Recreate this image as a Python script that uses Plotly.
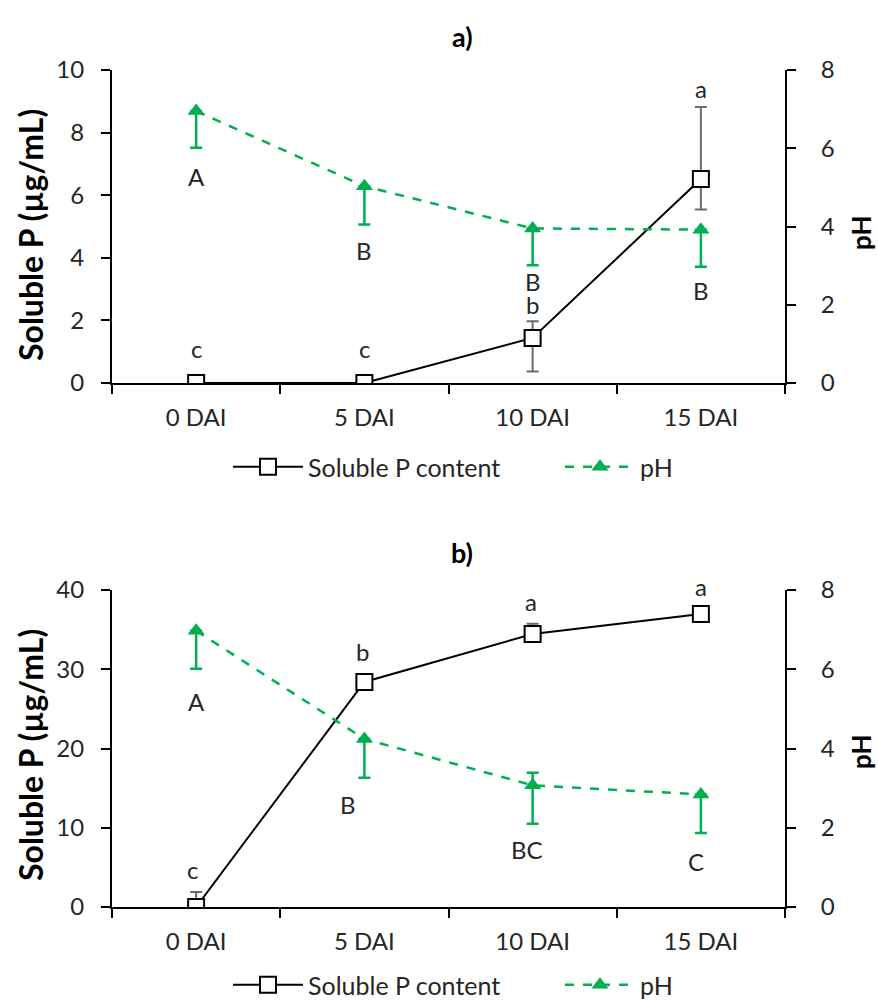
import plotly.graph_objects as go
from plotly.subplots import make_subplots

categories = ["0 DAI", "5 DAI", "10 DAI", "15 DAI"]

# Panel a
p_a = [0.0, 0.0, 1.44, 6.52]
p_a_err_plus = [0.0, 0.0, 0.53, 2.30]
p_a_err_minus = [0.0, 0.0, 1.07, 0.98]
ph_a = [6.95, 5.03, 3.95, 3.92]
ph_a_err_plus = [0.0, 0.0, 0.0, 0.0]
ph_a_err_minus = [0.94, 0.98, 0.94, 0.95]
p_a_letters = ["c", "c", "b", "a"]
p_a_letter_y = [1.09, 1.09, 2.50, 9.42]
ph_a_letters = ["A", "B", "B", "B"]
ph_a_letter_y = [6.61, 4.22, 3.25, 2.97]

# Panel b
p_b = [0.0, 28.4, 34.45, 36.97]
p_b_err_plus = [1.9, 0.0, 1.3, 0.0]
p_b_err_minus = [0.0, 0.0, 0.0, 0.0]
ph_b = [6.97, 4.24, 3.07, 2.84]
ph_b_err_plus = [0.0, 0.0, 0.32, 0.0]
ph_b_err_minus = [0.96, 0.98, 0.97, 0.97]
p_b_letters = ["c", "b", "a", "a"]
p_b_letter_y = [4.7, 32.2, 38.5, 40.4]
ph_b_letters = ["A", "B", "BC", "C"]
ph_b_letter_y = [25.9, 12.9, 7.2, 5.7]
ph_b_letter_dx = [0, -16, -6, -5]
p_b_letter_dx = [-4, -2, -2, 0]

GREEN = "#00B050"
TXT = "#262626"
FONT = "Lato"
FS = 24

fig = make_subplots(rows=2, cols=1,
                    specs=[[{"secondary_y": True}], [{"secondary_y": True}]])

def add_panel(row, p, pp, pm, ph, php, phm, legend):
    fig.add_trace(go.Scatter(
        x=categories, y=ph, name="pH", mode="lines+markers",
        line=dict(color=GREEN, width=2.5, dash="dash"),
        marker=dict(symbol="triangle-up", size=15, color=GREEN),
        error_y=dict(type="data", symmetric=False, array=php, arrayminus=phm,
                     color=GREEN, thickness=2.5, width=6),
        legend=legend, legendrank=2), row=row, col=1, secondary_y=True)
    fig.add_trace(go.Scatter(
        x=categories, y=p, name="Soluble P content", mode="lines+markers",
        line=dict(color="black", width=2),
        marker=dict(symbol="square", size=16, color="white",
                    line=dict(color="black", width=2)),
        error_y=dict(type="data", symmetric=False, array=pp, arrayminus=pm,
                     color="#6b6b6b", thickness=2, width=6),
        legend=legend, legendrank=1), row=row, col=1, secondary_y=False)

add_panel(1, p_a, p_a_err_plus, p_a_err_minus, ph_a, ph_a_err_plus, ph_a_err_minus, "legend")
add_panel(2, p_b, p_b_err_plus, p_b_err_minus, ph_b, ph_b_err_plus, ph_b_err_minus, "legend2")

xdom = [112 / 878, 785 / 878]
ya = [1 - 383 / 1000, 1 - 70 / 1000]
yb = [1 - 907 / 1000, 1 - 590 / 1000]
PX_PER_UNIT_B = (907 - 590) / 40.0

axis_common = dict(showline=True, linecolor="black", linewidth=2, ticks="outside",
                   tickcolor="black", tickwidth=2, ticklen=9, showgrid=False,
                   zeroline=False, automargin=False,
                   tickfont=dict(family=FONT, size=FS, color=TXT))

legend_common = dict(orientation="h", x=228 / 878, xanchor="left", yanchor="middle",
                     font=dict(family=FONT, size=25, color=TXT),
                     traceorder="normal", itemwidth=70, entrywidth=247,
                     bgcolor="rgba(0,0,0,0)")

fig.update_layout(
    xaxis=dict(domain=xdom, anchor="y", type="category", range=[-0.5, 3.5],
               tickson="boundaries", ticklabelstandoff=12, **axis_common),
    xaxis2=dict(domain=xdom, anchor="y3", type="category", range=[-0.5, 3.5],
                tickson="boundaries", ticklabelstandoff=12, **axis_common),
    yaxis=dict(domain=ya, range=[0, 10], dtick=2, ticklabelstandoff=12, **axis_common),
    yaxis2=dict(domain=ya, range=[0, 8], dtick=2, overlaying="y", side="right",
                ticklabelstandoff=20, **axis_common),
    yaxis3=dict(domain=yb, range=[0, 40], dtick=10, ticklabelstandoff=12, **axis_common),
    yaxis4=dict(domain=yb, range=[0, 8], dtick=2, overlaying="y3", side="right",
                ticklabelstandoff=20, **axis_common),
    width=878, height=1000,
    margin=dict(l=0, r=0, t=0, b=0, autoexpand=False),
    plot_bgcolor="white", paper_bgcolor="white",
    font=dict(family=FONT, size=FS, color=TXT),
    legend=dict(y=1 - 467 / 1000, **legend_common),
    legend2=dict(y=1 - 985 / 1000, **legend_common),
)

# Letters
for i, c in enumerate(categories):
    fig.add_annotation(x=c, y=p_a_letter_y[i], xref="x", yref="y", text=p_a_letters[i],
                       showarrow=False, font=dict(family=FONT, size=FS, color=TXT))
    fig.add_annotation(x=c, y=ph_a_letter_y[i], xref="x", yref="y", text=ph_a_letters[i],
                       showarrow=False, font=dict(family=FONT, size=FS, color=TXT))
    yb_val = min(p_b_letter_y[i], 40.0)
    extra = (p_b_letter_y[i] - yb_val) * PX_PER_UNIT_B
    fig.add_annotation(x=c, y=yb_val, xref="x2", yref="y3", text=p_b_letters[i],
                       yshift=extra, xshift=p_b_letter_dx[i],
                       showarrow=False, font=dict(family=FONT, size=FS, color=TXT))
    fig.add_annotation(x=c, y=ph_b_letter_y[i], xref="x2", yref="y3", text=ph_b_letters[i],
                       xshift=ph_b_letter_dx[i],
                       showarrow=False, font=dict(family=FONT, size=FS, color=TXT))

# Panel titles
for label, yc in [("a)", 36), ("b)", 552)]:
    fig.add_annotation(x=462 / 878, y=1 - yc / 1000, xref="paper", yref="paper",
                       xanchor="center", yanchor="middle", text=f"<b>{label}</b>",
                       showarrow=False, font=dict(family=FONT, size=27, color="black"))

# Axis titles
for yc in [235, 755]:
    fig.add_annotation(x=30 / 878, y=1 - yc / 1000, xref="paper", yref="paper",
                       xanchor="center", yanchor="middle",
                       text="<b>Soluble P (µg/mL)</b>", textangle=-90, showarrow=False,
                       font=dict(family=FONT, size=32, color="black"))
for yc in [233, 752]:
    fig.add_annotation(x=861 / 878, y=1 - yc / 1000, xref="paper", yref="paper",
                       xanchor="center", yanchor="middle",
                       text="<b>pH</b>", textangle=-90, showarrow=False,
                       font=dict(family=FONT, size=26, color="black"))

fig.write_html("out.html")
